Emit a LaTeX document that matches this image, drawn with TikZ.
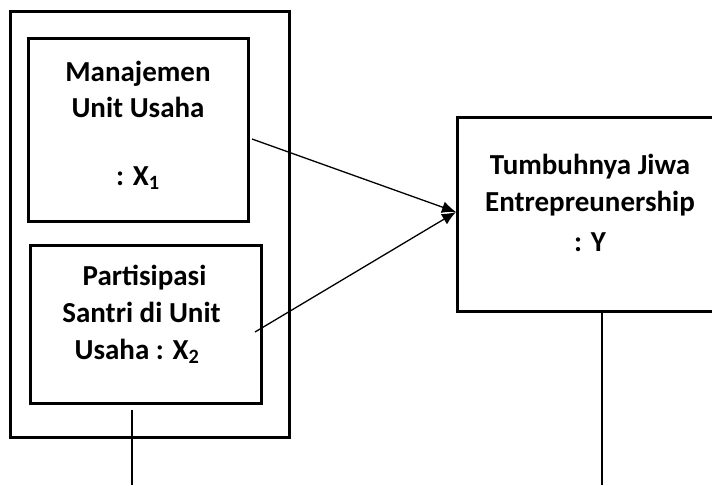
\documentclass[tikz,border=0pt]{standalone}
\usepackage{fontspec}
\setmainfont{Carlito}
\usetikzlibrary{arrows.meta}

\tikzset{
    box/.style = {draw, line width = 3pt, rectangle, inner sep = 0pt},
    txt/.style = {anchor = base, inner sep = 0pt, font = \fontsize{29}{34}\selectfont\bfseries},
    conn/.style = {line width = 1.3pt, -{Latex[length = 14pt, width = 12pt]}},
    vline/.style = {line width = 1.6pt}
}

\begin{document}
\begin{tikzpicture}[x = 1pt, y = -1pt]
        \useasboundingbox (0, 0) rectangle (712, 485);
        \clip (0, 0) rectangle (712, 485);
        \draw
            (149.5, 224) node (outer) [box, minimum width = 279pt, minimum height = 426pt] {}
            (138, 129.5) node (manaj) [box, minimum width = 220pt, minimum height = 183pt] {}
            (145.5, 324) node (partis) [box, minimum width = 231pt, minimum height = 158pt] {}
            (590, 214) node (tumbuh) [box, minimum width = 266pt, minimum height = 194pt] {}

            (138, 81) node (m1) [txt] {Manajemen}
            (138, 117) node (m2) [txt] {Unit Usaha}
            (138, 185) node (m3) [txt] {: X\textsubscript{1}}

            (144.5, 285) node (p1) [txt] {Partisipasi}
            (141.5, 322) node (p2) [txt] {Santri di Unit}
            (137, 359) node (p3) [txt] {Usaha : X\textsubscript{2}}

            (590, 174) node (t1) [txt] {Tumbuhnya Jiwa}
            (590, 211) node (t2) [txt] {Entrepreunership}
            (590, 251) node (t3) [txt] {: Y}
        ;

        \coordinate (s1) at (252, 139);
        \coordinate (s2) at (255, 332);
        \coordinate (tip) at (456, 212);
        \coordinate (d1) at (132, 410);
        \coordinate (e1) at (132, 485);
        \coordinate (e2) at (602, 485);

        \draw [conn] (s1) -- (tip);
        \draw [conn] (s2) -- (tip);
        \draw [vline] (d1) -- (e1);
        \draw [vline] (tumbuh.south -| e2) -- (e2);
    \end{tikzpicture}
\end{document}
